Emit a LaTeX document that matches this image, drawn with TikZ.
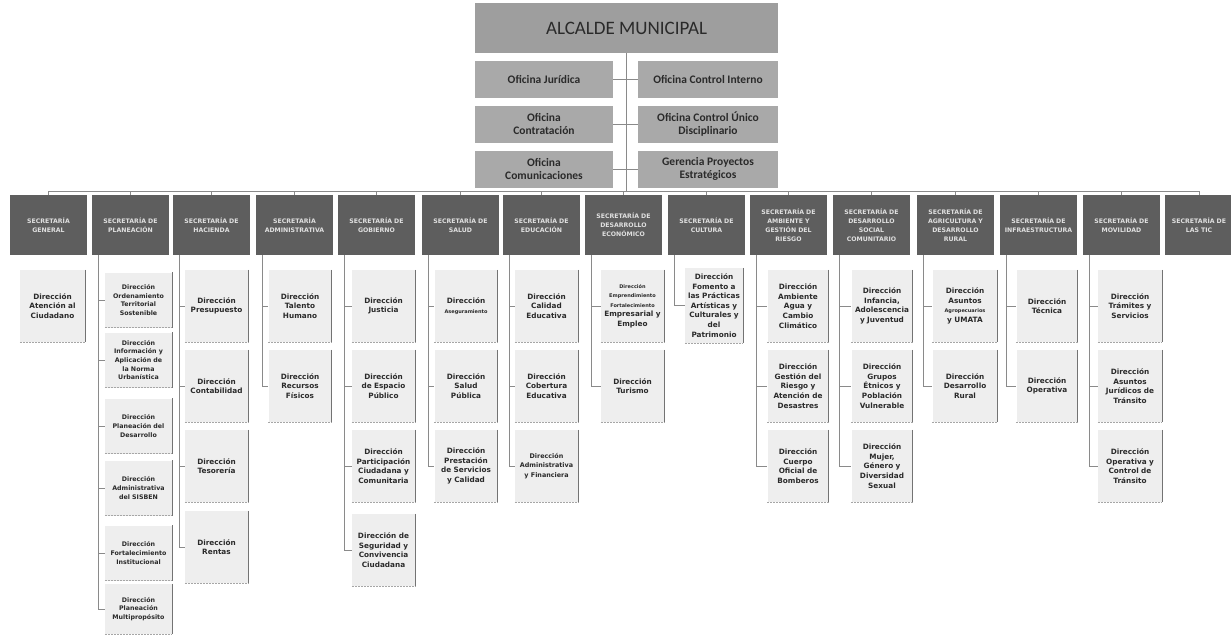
\documentclass[tikz,border=0pt]{standalone}
\usepackage{fontspec}
\setmainfont{Carlito}
\newfontfamily\dv{DejaVu Sans}
\definecolor{alcfill}{HTML}{9E9E9E}
\definecolor{ofifill}{HTML}{A9A9A9}
\definecolor{secfill}{HTML}{5E5E5E}
\definecolor{dirfill}{HTML}{EEEEEE}
\definecolor{txtdark}{HTML}{2A2A2A}
\definecolor{linec}{HTML}{8A8A8A}
\newcommand{\smt}[1]{{\fontsize{5}{6.5}\selectfont #1}}
\newcommand{\mdt}[1]{{\fontsize{6.4}{9.6}\selectfont #1}}
\begin{document}
\begin{tikzpicture}[x=1pt,y=-1pt,
  conn/.style={draw=linec, line width=0.9pt},
  alc/.style={fill=alcfill, minimum width=303, minimum height=50, inner sep=0pt, font=\fontsize{19}{21}\selectfont, text=txtdark},
  ofi/.style={fill=ofifill, minimum height=37, inner sep=1pt, align=center, font=\bfseries\fontsize{11.5}{13}\selectfont, text=txtdark},
  sec/.style={fill=secfill, minimum width=77, minimum height=60, inner sep=1pt, text width=75, align=center, font=\dv\bfseries\fontsize{6.2}{9}\selectfont, text=white!88!black},
  dir/.style={fill=dirfill, minimum width=63, minimum height=72, inner sep=1pt, text width=61, align=center, font=\dv\bfseries\fontsize{7.3}{9.6}\selectfont, text=txtdark,
    append after command={(\tikzlastnode.north east) edge[draw=black!55, line width=1.1pt] (\tikzlastnode.south east)
      (\tikzlastnode.south west) edge[draw=black!35, dash pattern=on 2pt off 1pt, line width=0.8pt] (\tikzlastnode.south east)}},
  dirp/.style={dir, minimum width=67, minimum height=55, text width=65, font=\dv\bfseries\fontsize{6.3}{8.6}\selectfont}
]
\useasboundingbox (0,0) rectangle (1231,635);
\fill[white] (0,0) rectangle (1231,635);

% top
\node[alc] (alc) at (626.5,28) {ALCALDE MUNICIPAL};
\node[ofi, minimum width=138] (o1) at (544,79) {Oficina Jurídica};
\node[ofi, minimum width=140] (o2) at (708,79) {Oficina Control Interno};
\node[ofi, minimum width=138] (o3) at (544,124) {Oficina\\Contratación};
\node[ofi, minimum width=140] (o4) at (708,124) {Oficina Control Único\\Disciplinario};
\node[ofi, minimum width=138] (o5) at (544,169) {Oficina\\Comunicaciones};
\node[ofi, minimum width=140] (o6) at (708,169) {Gerencia Proyectos\\Estratégicos};
\coordinate (bus) at (626.5,191);

% secretarias
\node[sec] (h1) at (48.5,225) {SECRETARÍA\\GENERAL};
\node[sec] (h2) at (130.5,225) {SECRETARÍA DE\\PLANEACIÓN};
\node[sec] (h3) at (211.5,225) {SECRETARÍA DE\\HACIENDA};
\node[sec] (h4) at (294.5,225) {SECRETARÍA\\ADMINISTRATIVA};
\node[sec] (h5) at (376.5,225) {SECRETARÍA DE\\GOBIERNO};
\node[sec] (h6) at (460.5,225) {SECRETARÍA DE\\SALUD};
\node[sec] (h7) at (541.5,225) {SECRETARÍA DE\\EDUCACIÓN};
\node[sec] (h8) at (623.5,225) {SECRETARÍA DE\\DESARROLLO\\ECONÓMICO};
\node[sec] (h9) at (706.5,225) {SECRETARÍA DE\\CULTURA};
\node[sec] (h10) at (788.5,225) {SECRETARÍA DE\\AMBIENTE Y\\GESTIÓN DEL\\RIESGO};
\node[sec] (h11) at (871.5,225) {SECRETARÍA DE\\DESARROLLO\\SOCIAL\\COMUNITARIO};
\node[sec] (h12) at (955.5,225) {SECRETARÍA DE\\AGRICULTURA Y\\DESARROLLO\\RURAL};
\node[sec] (h13) at (1038.5,225) {SECRETARÍA DE\\INFRAESTRUCTURA};
\node[sec] (h14) at (1121.5,225) {SECRETARÍA DE\\MOVILIDAD};
\node[sec, minimum width=68, text width=66] (h15) at (1199,225) {SECRETARÍA DE\\LAS TIC};

% direcciones
\node[dir, minimum width=65] (d1a) at (52.5,306) {Dirección\\Atención al\\Ciudadano};

\node[dirp] (d2a) at (138.5,300) {Dirección\\Ordenamiento\\Territorial\\Sostenible};
\node[dirp] (d2b) at (138.5,360) {Dirección\\Información y\\Aplicación de\\la Norma\\Urbanística};
\node[dirp] (d2c) at (138.5,426) {Dirección\\Planeación del\\Desarrollo};
\node[dirp] (d2d) at (138.5,488) {Dirección\\Administrativa\\del SISBEN};
\node[dirp] (d2e) at (138.5,553) {Dirección\\Fortalecimiento\\Institucional};
\node[dirp, minimum height=50] (d2f) at (138.5,609) {Dirección\\Planeación\\Multipropósito};

\node[dir] (d3a) at (216.5,306) {Dirección\\Presupuesto};
\node[dir] (d3b) at (216.5,386) {Dirección\\Contabilidad};
\node[dir] (d3c) at (216.5,466) {Dirección\\Tesorería};
\node[dir] (d3d) at (216.5,547) {Dirección\\Rentas};

\node[dir] (d4a) at (300,306) {Dirección\\Talento\\Humano};
\node[dir] (d4b) at (300,386) {Dirección\\Recursos\\Físicos};

\node[dir] (d5a) at (383.5,306) {Dirección\\Justicia};
\node[dir] (d5b) at (383.5,386) {Dirección\\de Espacio\\Público};
\node[dir] (d5c) at (383.5,466) {Dirección\\Participación\\Ciudadana y\\Comunitaria};
\node[dir] (d5d) at (383.5,550) {Dirección de\\Seguridad y\\Convivencia\\Ciudadana};

\node[dir] (d6a) at (466,306) {Dirección\\\smt{Aseguramiento}};
\node[dir] (d6b) at (466,386) {Dirección\\Salud\\Pública};
\node[dir] (d6c) at (466,466) {Dirección\\Prestación\\de Servicios\\y Calidad};

\node[dir] (d7a) at (546.5,306) {Dirección\\Calidad\\Educativa};
\node[dir] (d7b) at (546.5,386) {Dirección\\Cobertura\\Educativa};
\node[dir] (d7c) at (546.5,466) {\mdt{Dirección}\\\mdt{Administrativa}\\\mdt{y Financiera}};

\node[dir] (d8a) at (632.5,306) {\smt{Dirección}\\\smt{Emprendimiento}\\\smt{Fortalecimiento}\\Empresarial y\\Empleo};
\node[dir] (d8b) at (632.5,386) {Dirección\\Turismo};

\node[dir, minimum width=58, text width=56, minimum height=75] (d9a) at (714,305.5) {Dirección\\Fomento a\\las Prácticas\\Artísticas y\\Culturales y\\del\\Patrimonio};

\node[dir, minimum width=61, text width=59] (d10a) at (798,306) {Dirección\\Ambiente\\Agua y\\Cambio\\Climático};
\node[dir, minimum width=61, text width=59] (d10b) at (798,386) {Dirección\\Gestión del\\Riesgo y\\Atención de\\Desastres};
\node[dir, minimum width=61, text width=59] (d10c) at (798,466) {Dirección\\Cuerpo\\Oficial de\\Bomberos};

\node[dir, minimum width=61, text width=59] (d11a) at (882,306) {Dirección\\Infancia,\\Adolescencia\\y Juventud};
\node[dir, minimum width=61, text width=59] (d11b) at (882,386) {Dirección\\Grupos\\Étnicos y\\Población\\Vulnerable};
\node[dir, minimum width=61, text width=59] (d11c) at (882,466) {Dirección\\Mujer,\\Género y\\Diversidad\\Sexual};

\node[dir, minimum width=65] (d12a) at (965,306) {Dirección\\Asuntos\\\smt{Agropecuarios}\\y UMATA};
\node[dir, minimum width=65] (d12b) at (965,386) {Dirección\\Desarrollo\\Rural};

\node[dir, minimum width=61, text width=59] (d13a) at (1047,306) {Dirección\\Técnica};
\node[dir, minimum width=61, text width=59] (d13b) at (1047,386) {Dirección\\Operativa};

\node[dir, minimum width=64] (d14a) at (1130,306) {Dirección\\Trámites y\\Servicios};
\node[dir, minimum width=64] (d14b) at (1130,386) {Dirección\\Asuntos\\Jurídicos de\\Tránsito};
\node[dir, minimum width=64] (d14c) at (1130,466) {Dirección\\Operativa y\\Control de\\Tránsito};

% connectors top
\draw[conn] (alc.south) -- (bus);
\draw[conn] (o1.east) -- (o2.west);
\draw[conn] (o3.east) -- (o4.west);
\draw[conn] (o5.east) -- (o6.west);
\foreach \i in {1,...,15} { \draw[conn] (bus) -| (h\i.north); }

% connectors columns
\foreach \c/\list in {2/{a,b,c,d,e,f}, 3/{a,b,c,d}, 4/{a,b}, 5/{a,b,c,d}, 6/{a,b,c}, 7/{a,b,c}, 8/{a,b}, 9/{a}, 10/{a,b,c}, 11/{a,b,c}, 12/{a,b}, 13/{a,b}, 14/{a,b,c}} {
  \foreach \r in \list { \draw[conn] ([xshift=7pt]h\c.south west) |- (d\c\r.west); }
}
\end{tikzpicture}
\end{document}
